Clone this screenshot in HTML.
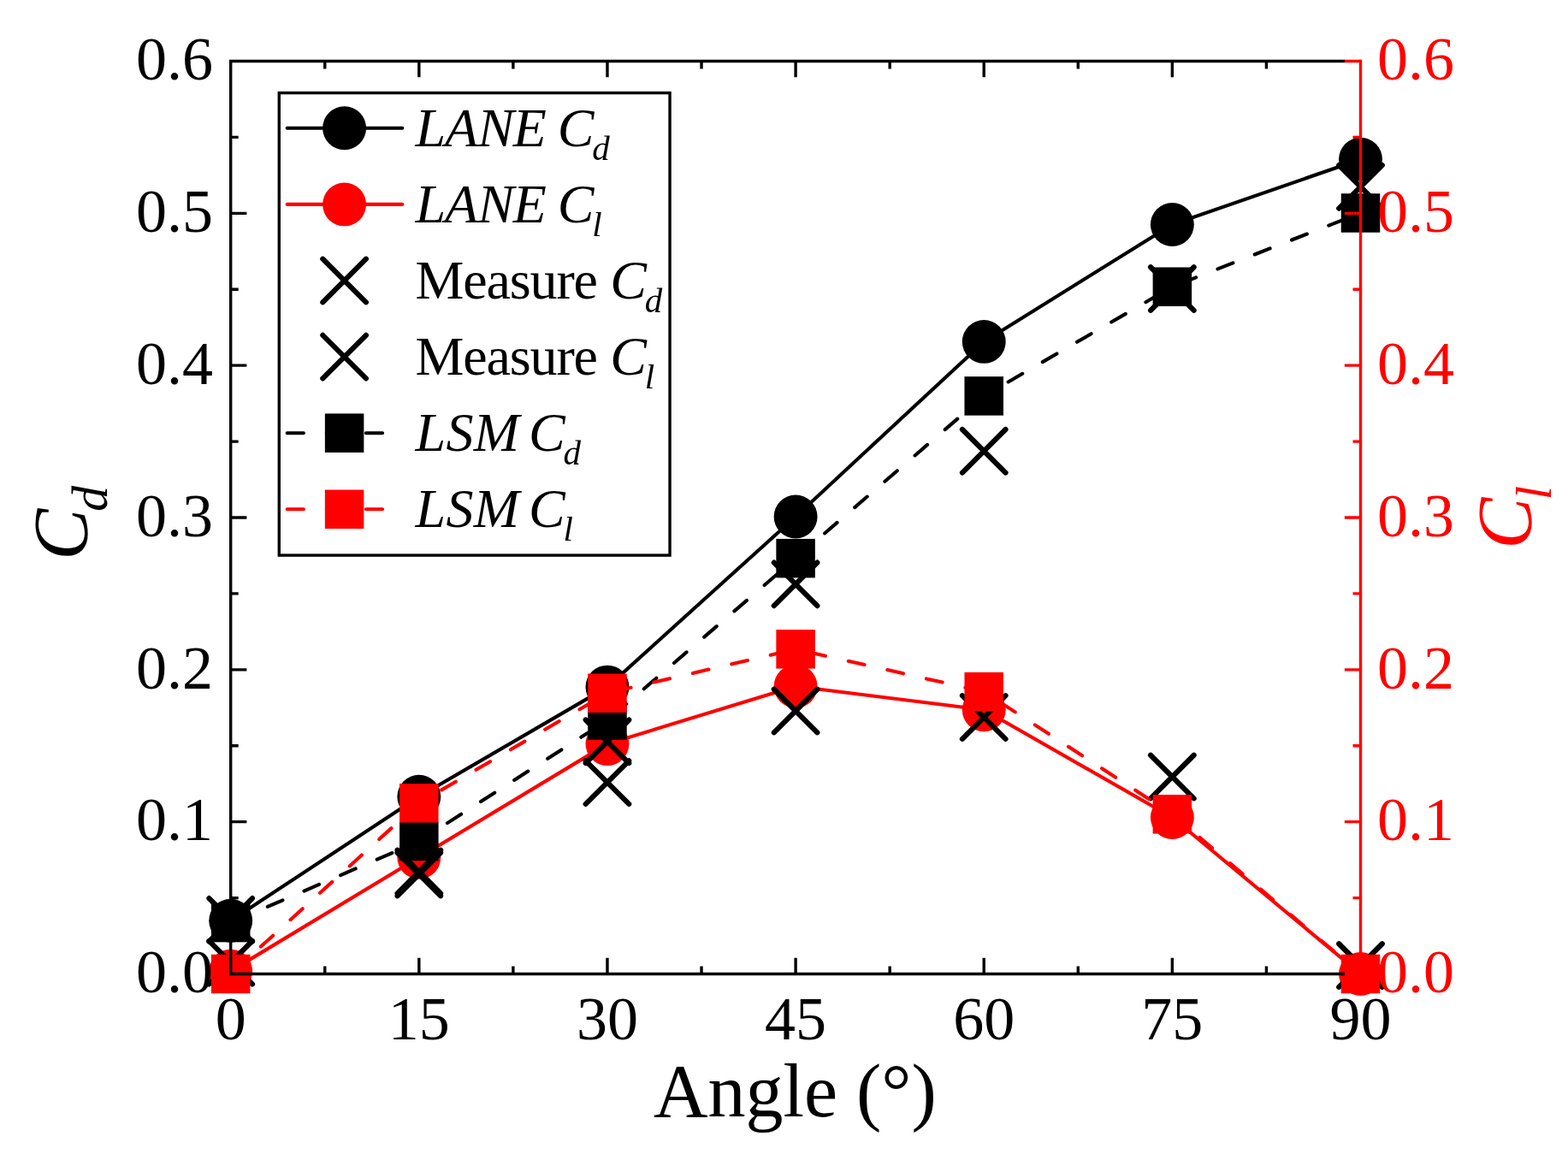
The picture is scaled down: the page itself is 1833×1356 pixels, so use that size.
<!DOCTYPE html>
<html><head><meta charset="utf-8"><title>Cd Cl vs Angle</title>
<style>
html,body{margin:0;padding:0;background:#fff;}
svg{display:block;}
text{font-family:"Liberation Serif","Times New Roman",serif;fill:#000;}
.t{font-size:72px;}
.at{font-size:88px;}
.lg{font-size:64px;}
.ls{font-size:41px;}
.yt{font-size:90px;font-style:italic;}
.ys{font-size:60px;font-style:italic;}
.r{fill:#ff0000;}
</style></head><body>
<svg width="1833" height="1356" viewBox="0 0 1833 1356">
<rect width="1833" height="1356" fill="#fff"/>
<polyline points="269.7,1076.26 489.83,931.32 709.97,803.11 930.1,603.93 1150.23,399.42 1370.37,262.49 1590.5,186.2" fill="none" stroke="#000" stroke-width="4.1" stroke-linejoin="round"/>
<circle cx="269.7" cy="1076.26" r="25.45" fill="#000"/>
<circle cx="489.83" cy="931.32" r="25.45" fill="#000"/>
<circle cx="709.97" cy="803.11" r="25.45" fill="#000"/>
<circle cx="930.1" cy="603.93" r="25.45" fill="#000"/>
<circle cx="1150.23" cy="399.42" r="25.45" fill="#000"/>
<circle cx="1370.37" cy="262.49" r="25.45" fill="#000"/>
<circle cx="1590.5" cy="186.2" r="25.45" fill="#000"/>
<polyline points="269.7,1135.12 489.83,1002.28 709.97,869.62 930.1,802.22 1150.23,829.78 1370.37,955.51 1590.5,1138.5" fill="none" stroke="#ff0000" stroke-width="4.1" stroke-linejoin="round"/>
<circle cx="269.7" cy="1135.12" r="25.45" fill="#ff0000"/>
<circle cx="489.83" cy="1002.28" r="25.45" fill="#ff0000"/>
<circle cx="709.97" cy="869.62" r="25.45" fill="#ff0000"/>
<circle cx="930.1" cy="802.22" r="25.45" fill="#ff0000"/>
<circle cx="1150.23" cy="829.78" r="25.45" fill="#ff0000"/>
<circle cx="1370.37" cy="955.51" r="25.45" fill="#ff0000"/>
<circle cx="1590.5" cy="1138.5" r="25.45" fill="#ff0000"/>
<path d="M244.4 1050.07L295 1100.67M244.4 1100.67L295 1050.07" stroke="#000" stroke-width="6.1" stroke-linecap="round" fill="none"/>
<path d="M464.53 993.7L515.13 1044.3M464.53 1044.3L515.13 993.7" stroke="#000" stroke-width="6.1" stroke-linecap="round" fill="none"/>
<path d="M684.67 889.31L735.27 939.91M684.67 939.91L735.27 889.31" stroke="#000" stroke-width="6.1" stroke-linecap="round" fill="none"/>
<path d="M904.8 657.59L955.4 708.19M904.8 708.19L955.4 657.59" stroke="#000" stroke-width="6.1" stroke-linecap="round" fill="none"/>
<path d="M1124.93 501.99L1175.53 552.59M1124.93 552.59L1175.53 501.99" stroke="#000" stroke-width="6.1" stroke-linecap="round" fill="none"/>
<path d="M1345.07 312.24L1395.67 362.84M1345.07 362.84L1395.67 312.24" stroke="#000" stroke-width="6.1" stroke-linecap="round" fill="none"/>
<path d="M1565.2 193.09L1615.8 243.69M1565.2 243.69L1615.8 193.09" stroke="#000" stroke-width="6.1" stroke-linecap="round" fill="none"/>
<path d="M244.4 1099.86L295 1150.46M244.4 1150.46L295 1099.86" stroke="#000" stroke-width="6.1" stroke-linecap="round" fill="none"/>
<path d="M464.53 996.72L515.13 1047.32M464.53 1047.32L515.13 996.72" stroke="#000" stroke-width="6.1" stroke-linecap="round" fill="none"/>
<path d="M684.67 841.47L735.27 892.07M684.67 892.07L735.27 841.47" stroke="#000" stroke-width="6.1" stroke-linecap="round" fill="none"/>
<path d="M904.8 805.73L955.4 856.33M904.8 856.33L955.4 805.73" stroke="#000" stroke-width="6.1" stroke-linecap="round" fill="none"/>
<path d="M1124.93 813.2L1175.53 863.8M1124.93 863.8L1175.53 813.2" stroke="#000" stroke-width="6.1" stroke-linecap="round" fill="none"/>
<path d="M1345.07 882.73L1395.67 933.33M1345.07 933.33L1395.67 882.73" stroke="#000" stroke-width="6.1" stroke-linecap="round" fill="none"/>
<path d="M1565.2 1103.24L1615.8 1153.84M1565.2 1153.84L1615.8 1103.24" stroke="#000" stroke-width="6.1" stroke-linecap="round" fill="none"/>
<polyline points="269.7,1078.57 489.83,983.43 709.97,842.05 930.1,652.66 1150.23,462.91 1370.37,335.23 1590.5,248.98" fill="none" stroke="#000" stroke-width="4.1" stroke-linejoin="round" stroke-dasharray="19.2 27.25" stroke-dashoffset="-0.5" stroke-linecap="round"/>
<rect x="246.95" y="1055.82" width="45.5" height="45.5" fill="#000"/>
<rect x="467.08" y="960.68" width="45.5" height="45.5" fill="#000"/>
<rect x="687.22" y="819.3" width="45.5" height="45.5" fill="#000"/>
<rect x="907.35" y="629.91" width="45.5" height="45.5" fill="#000"/>
<rect x="1127.48" y="440.16" width="45.5" height="45.5" fill="#000"/>
<rect x="1347.62" y="312.48" width="45.5" height="45.5" fill="#000"/>
<rect x="1567.75" y="226.23" width="45.5" height="45.5" fill="#000"/>
<polyline points="269.7,1138.5 489.83,938.79 709.97,810.22 930.1,758.83 1150.23,808.62 1370.37,951.77 1590.5,1138.5" fill="none" stroke="#ff0000" stroke-width="4.1" stroke-linejoin="round" stroke-dasharray="19.2 27.5" stroke-dashoffset="-0.85" stroke-linecap="round"/>
<rect x="246.95" y="1115.75" width="45.5" height="45.5" fill="#ff0000"/>
<rect x="467.08" y="916.04" width="45.5" height="45.5" fill="#ff0000"/>
<rect x="687.22" y="787.47" width="45.5" height="45.5" fill="#ff0000"/>
<rect x="907.35" y="736.08" width="45.5" height="45.5" fill="#ff0000"/>
<rect x="1127.48" y="785.87" width="45.5" height="45.5" fill="#ff0000"/>
<rect x="1347.62" y="929.02" width="45.5" height="45.5" fill="#ff0000"/>
<rect x="1567.75" y="1115.75" width="45.5" height="45.5" fill="#ff0000"/>
<rect x="326.3" y="108.6" width="456.75" height="540.5" fill="#fff" stroke="#000" stroke-width="3.4"/>
<line x1="335.7" x2="470.3" y1="149.8" y2="149.8" stroke="#000" stroke-width="4.1" stroke-linecap="round"/>
<circle cx="402.6" cy="149.8" r="25.45" fill="#000"/>
<line x1="335.7" x2="470.3" y1="238.9" y2="238.9" stroke="#ff0000" stroke-width="4.1" stroke-linecap="round"/>
<circle cx="402.6" cy="238.9" r="25.45" fill="#ff0000"/>
<path d="M377.3 302.7L427.9 353.3M377.3 353.3L427.9 302.7" stroke="#000" stroke-width="6.1" stroke-linecap="round" fill="none"/>
<path d="M377.3 391.8L427.9 442.4M377.3 442.4L427.9 391.8" stroke="#000" stroke-width="6.1" stroke-linecap="round" fill="none"/>
<line x1="335.7" x2="470.3" y1="506.2" y2="506.2" stroke="#000" stroke-width="4.1" stroke-linecap="round" stroke-dasharray="19.2 26.9"/>
<rect x="379.85" y="483.45" width="45.5" height="45.5" fill="#000"/>
<line x1="335.7" x2="470.3" y1="595.3" y2="595.3" stroke="#ff0000" stroke-width="4.1" stroke-linecap="round" stroke-dasharray="19.2 26.9"/>
<rect x="379.85" y="572.55" width="45.5" height="45.5" fill="#ff0000"/>
<text x="485.5" y="170.7" class="lg" font-style="italic" letter-spacing="-1.03">LANE</text>
<text x="651.7" y="170.7" class="lg" font-style="italic">C</text>
<text x="692.2" y="187.3" class="ls" font-style="italic">d</text>
<text x="485.5" y="259.7" class="lg" font-style="italic" letter-spacing="-1.03">LANE</text>
<text x="651.7" y="259.7" class="lg" font-style="italic">C</text>
<text x="692.2" y="276.3" class="ls" font-style="italic">l</text>
<text x="485.5" y="348.7" class="lg" letter-spacing="-1.15">Measure</text>
<text x="713.2" y="348.7" class="lg" font-style="italic">C</text>
<text x="753.7" y="365.3" class="ls" font-style="italic">d</text>
<text x="485.5" y="437.7" class="lg" letter-spacing="-1.15">Measure</text>
<text x="713.2" y="437.7" class="lg" font-style="italic">C</text>
<text x="753.7" y="454.3" class="ls" font-style="italic">l</text>
<text x="485.5" y="526.7" class="lg" font-style="italic" letter-spacing="0.3">LSM</text>
<text x="618" y="526.7" class="lg" font-style="italic">C</text>
<text x="658.5" y="543.3" class="ls" font-style="italic">d</text>
<text x="485.5" y="615.7" class="lg" font-style="italic" letter-spacing="0.3">LSM</text>
<text x="618" y="615.7" class="lg" font-style="italic">C</text>
<text x="658.5" y="632.3" class="ls" font-style="italic">l</text>
<path d="M1572.3 71.5H269.7V1138.5H1572.3" fill="none" stroke="#000" stroke-width="3.4" stroke-linejoin="miter"/>
<path d="M379.77 1138.5v-9M379.77 71.5v9M489.83 1138.5v-18.7M489.83 71.5v18.7M599.9 1138.5v-9M599.9 71.5v9M709.97 1138.5v-18.7M709.97 71.5v18.7M820.03 1138.5v-9M820.03 71.5v9M930.1 1138.5v-18.7M930.1 71.5v18.7M1040.17 1138.5v-9M1040.17 71.5v9M1150.23 1138.5v-18.7M1150.23 71.5v18.7M1260.3 1138.5v-9M1260.3 71.5v9M1370.37 1138.5v-18.7M1370.37 71.5v18.7M1480.43 1138.5v-9M1480.43 71.5v9M269.7 1049.58h9M269.7 960.67h18.7M269.7 871.75h9M269.7 782.83h18.7M269.7 693.92h9M269.7 605h18.7M269.7 516.08h9M269.7 427.17h18.7M269.7 338.25h9M269.7 249.33h18.7M269.7 160.42h9" stroke="#000" stroke-width="3.4" fill="none"/>
<path d="M1590.5 1138.5h-18.7M1590.5 1049.58h-9M1590.5 960.67h-18.7M1590.5 871.75h-9M1590.5 782.83h-18.7M1590.5 693.92h-9M1590.5 605h-18.7M1590.5 516.08h-9M1590.5 427.17h-18.7M1590.5 338.25h-9M1590.5 249.33h-18.7M1590.5 160.42h-9M1590.5 71.5h-18.7" stroke="#ff0000" stroke-width="3.4" fill="none"/>
<path d="M1590.5 69.8V1140.2" stroke="#ff0000" stroke-width="3.4" fill="none"/>
<text x="249" y="1160.2" text-anchor="end" class="t">0.0</text>
<text x="1610" y="1160.2" class="t r">0.0</text>
<text x="249" y="982.37" text-anchor="end" class="t">0.1</text>
<text x="1610" y="982.37" class="t r">0.1</text>
<text x="249" y="804.53" text-anchor="end" class="t">0.2</text>
<text x="1610" y="804.53" class="t r">0.2</text>
<text x="249" y="626.7" text-anchor="end" class="t">0.3</text>
<text x="1610" y="626.7" class="t r">0.3</text>
<text x="249" y="448.87" text-anchor="end" class="t">0.4</text>
<text x="1610" y="448.87" class="t r">0.4</text>
<text x="249" y="271.03" text-anchor="end" class="t">0.5</text>
<text x="1610" y="271.03" class="t r">0.5</text>
<text x="249" y="93.2" text-anchor="end" class="t">0.6</text>
<text x="1610" y="93.2" class="t r">0.6</text>
<text x="269.7" y="1215" text-anchor="middle" class="t">0</text>
<text x="489.83" y="1215" text-anchor="middle" class="t">15</text>
<text x="709.97" y="1215" text-anchor="middle" class="t">30</text>
<text x="930.1" y="1215" text-anchor="middle" class="t">45</text>
<text x="1150.23" y="1215" text-anchor="middle" class="t">60</text>
<text x="1370.37" y="1215" text-anchor="middle" class="t">75</text>
<text x="1590.5" y="1215" text-anchor="middle" class="t">90</text>
<text x="764" y="1305" class="at">Angle (°)</text>
<text transform="translate(101.8 654.8) rotate(-90)" class="yt">C</text>
<text transform="translate(124.7 598) rotate(-90)" class="ys">d</text>
<text transform="translate(1790.1 641.8) rotate(-90)" class="yt r">C</text>
<text transform="translate(1813.3 584.6) rotate(-90)" class="ys r">l</text>
</svg>
</body></html>
